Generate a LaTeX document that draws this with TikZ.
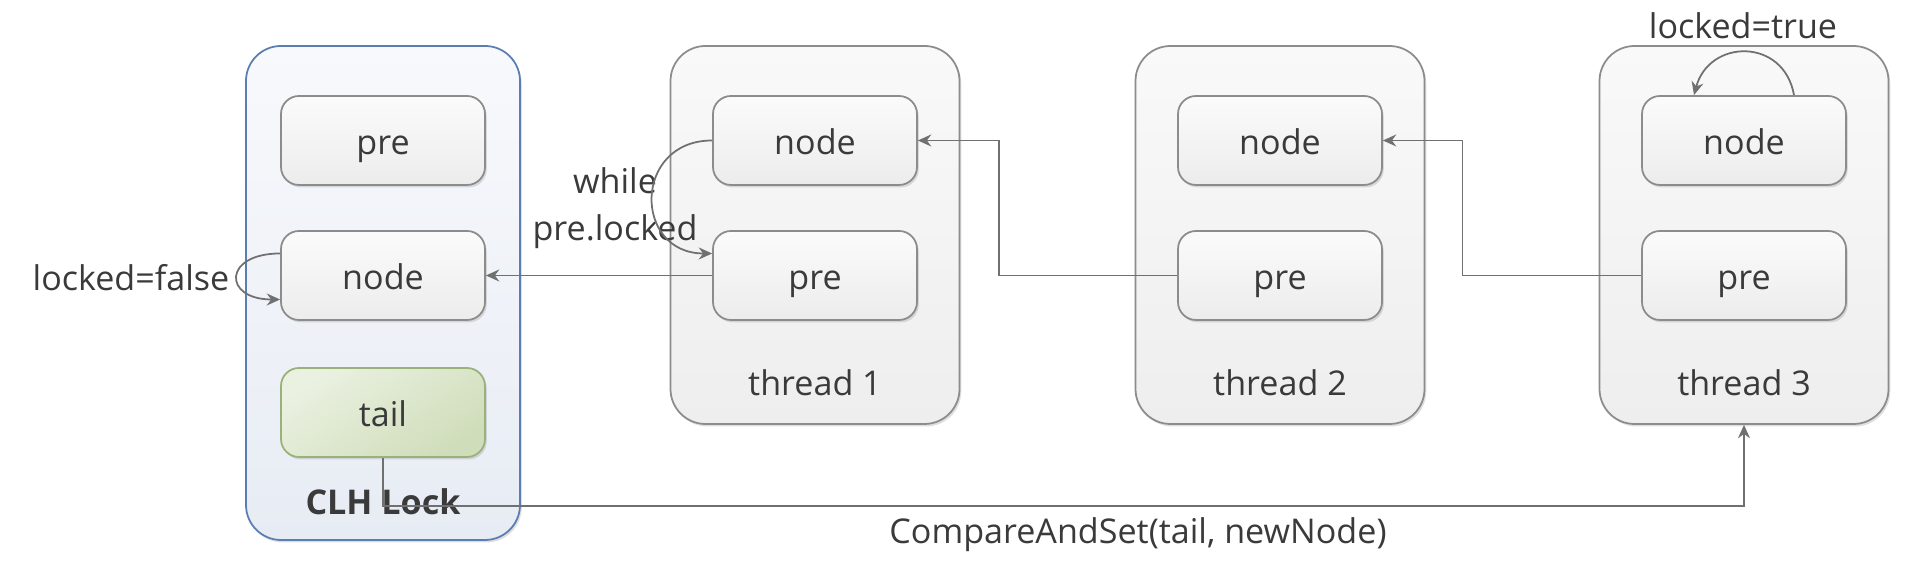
\documentclass[tikz,border=0pt]{standalone}
\usepackage{fontspec}
\setmainfont{Open Sans}
\usetikzlibrary{arrows.meta, shadows}
\definecolor{linegray}{HTML}{707070}
\definecolor{textgray}{HTML}{3A3A3A}
\definecolor{boxline}{HTML}{8C8C8C}
\definecolor{lockline}{HTML}{5B7DB1}
\definecolor{tailline}{HTML}{9AB27A}
\tikzstyle{softshadow} = [drop shadow={shadow xshift=0.5pt, shadow yshift=-0.7pt, opacity=0.25, fill=gray}]
\tikzstyle{threadbox} = [draw=boxline, line width=0.5pt, rounded corners=0.35cm, minimum width=2.89cm, minimum height=3.78cm, top color={rgb,255:red,249;green,249;blue,249}, bottom color={rgb,255:red,238;green,238;blue,238}, softshadow]
\tikzstyle{lockbox} = [draw=lockline, line width=0.5pt, rounded corners=0.35cm, minimum width=2.74cm, minimum height=4.94cm, top color={rgb,255:red,248;green,249;blue,252}, bottom color={rgb,255:red,231;green,236;blue,244}, softshadow]
\tikzstyle{fieldbox} = [draw=boxline, line width=0.5pt, rounded corners=0.18cm, minimum width=2.04cm, minimum height=0.89cm, text height=8.6pt, text depth=0.7pt, top color={rgb,255:red,251;green,251;blue,251}, bottom color={rgb,255:red,236;green,236;blue,236}, softshadow]
\tikzstyle{tailbox} = [fieldbox, draw=tailline, top color={rgb,255:red,234;green,241;blue,225}, bottom color={rgb,255:red,208;green,221;blue,186}, shading angle=35]
\tikzstyle{link} = [draw=linegray, line width=0.5pt, -{Stealth[length=3.8pt, width=3.4pt]}]

\begin{document}
\begin{tikzpicture}[font=\fontsize{9.7}{13.4}\selectfont, text=textgray]
      \useasboundingbox (0,0) rectangle (19.10,-5.70);

      % the lock
      \node[lockbox] (lock) at (3.83,-2.93) {};
      \node[fieldbox] (pre0) at (3.83,-1.405) {pre};
      \node[fieldbox] (node0) at (3.83,-2.755) {node};
      \node[tailbox] (tail) at (3.83,-4.125) {tail};
      \node[font=\fontsize{9.7}{13.4}\selectfont\bfseries] (locklabel) at (3.83,-5.02) {CLH Lock};
      \node (unlocked) at (1.31,-2.78) {locked=false};

      % the threads
      \node[threadbox] (thread1) at (8.15,-2.35) {};
      \node[fieldbox] (node1) at (8.15,-1.405) {node};
      \node[fieldbox] (pre1) at (8.15,-2.755) {pre};
      \node (t1label) at (8.15,-3.83) {thread 1};
      \node[align=center] (spin) at (6.15,-2.08) {while\\pre.locked};

      \node[threadbox] (thread2) at (12.80,-2.35) {};
      \node[fieldbox] (node2) at (12.80,-1.405) {node};
      \node[fieldbox] (pre2) at (12.80,-2.755) {pre};
      \node (t2label) at (12.80,-3.83) {thread 2};

      \node[threadbox] (thread3) at (17.44,-2.35) {};
      \node[fieldbox] (node3) at (17.44,-1.405) {node};
      \node[fieldbox] (pre3) at (17.44,-2.755) {pre};
      \node (t3label) at (17.44,-3.83) {thread 3};
      \node (locked) at (17.43,-0.26) {locked=true};

      \node (cas) at (11.38,-5.35) {CompareAndSet(tail, newNode)};

      \draw[link] (pre1.west) -- (node0.east);
      \draw[link] (pre2.west) -| ([xshift=0.385cm]thread1.east) |- (node1.east);
      \draw[link] (pre3.west) -| ([xshift=0.37cm]thread2.east) |- (node2.east);
      \draw[link] (tail.south) -- ++(0,-0.48) -| (thread3.south);
      \draw[link] (node1.west) to[out=180, in=180, looseness=1.8] ([yshift=0.22cm]pre1.west);
      \draw[link] ([yshift=0.22cm]node0.west) to[out=180, in=180, looseness=3.2] ([yshift=-0.24cm]node0.west);
      \draw[link] ([xshift=0.50cm]node3.north) to[out=100, in=75, looseness=1.5] ([xshift=-0.50cm]node3.north);
    \end{tikzpicture}
\end{document}
